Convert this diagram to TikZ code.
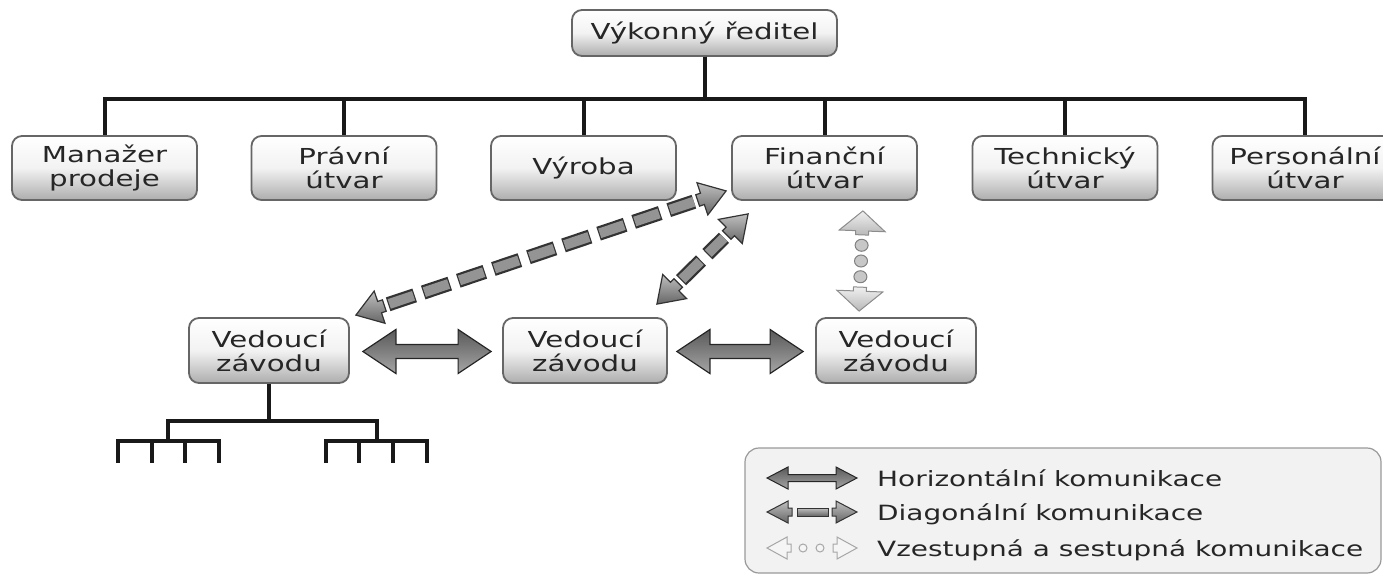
\documentclass[tikz,border=0pt]{standalone}
\usepackage{fontspec}
\newfontfamily\vfont[FakeStretch=1.33]{DejaVu Sans}
\usetikzlibrary{calc}

\tikzset{
  orgbox/.style={draw=black!60, line width=1.8pt, rounded corners=10pt,
    top color=white, bottom color=black!32, middle color=black!5,
    font=\vfont\fontsize{22}{24}\selectfont, text=black!85, align=center, inner sep=0pt},
  rowtwo/.style={orgbox, minimum width=185pt, minimum height=64pt},
  rowthree/.style={orgbox, minimum width=160pt, minimum height=65pt},
  treeline/.style={line width=4pt, black!90},
  harr/.style={draw=black!85, line width=1.2pt, top color=black!65, bottom color=black!35, line join=miter},
  dhd/.style={draw=black!80, line width=1.2pt, top color=black!25, bottom color=black!60, line join=miter},
  dout/.style={line width=14.4pt, black!80, dash pattern=on 28pt off 9pt},
  din/.style={line width=10pt, black!42, dash pattern=on 25.6pt off 11.4pt, dash phase=35.8pt},
  vhd/.style={draw=black!45, line width=1pt, top color=black!6, bottom color=black!28, line join=miter},
  vcirc/.style={draw=black!50, line width=1pt, fill=black!22},
  lhd/.style={draw=black!35, line width=1pt, fill=black!4, line join=miter},
  lcirc/.style={draw=black!35, line width=1pt, fill=black!4},
  legtext/.style={font=\vfont\fontsize{21}{24}\selectfont, text=black!85, anchor=base west, inner sep=0pt},
}

% double-headed block arrow: #1 tip A, #2 tip B, #3 head length, #4 head half width, #5 shaft half width, #6 style
\newcommand{\blockarrow}[6]{%
  \coordinate (ba) at ($(#1)!#3!(#2)$);
  \coordinate (bb) at ($(#2)!#3!(#1)$);
  \path[#6] (#1) -- ($(ba)!#4!90:(#2)$) -- ($(ba)!#5!90:(#2)$) -- ($(bb)!#5!-90:(#1)$)
    -- ($(bb)!#4!-90:(#1)$) -- (#2) -- ($(bb)!#4!90:(#1)$) -- ($(bb)!#5!90:(#1)$)
    -- ($(ba)!#5!-90:(#2)$) -- ($(ba)!#4!-90:(#2)$) -- cycle;
}
% single head with stub: #1 tip, #2 toward, #3 head length, #4 stub end, #5 head half width, #6 stub half width, #7 style
\newcommand{\onehead}[7]{%
  \coordinate (hA) at ($(#1)!#3!(#2)$);
  \coordinate (hC) at ($(#1)!#4!(#2)$);
  \path[#7] (#1) -- ($(hA)!#5!90:(#2)$) -- ($(hA)!#6!90:(#2)$) -- ($(hC)!#6!90:(#2)$)
    -- ($(hC)!#6!-90:(#2)$) -- ($(hA)!#6!-90:(#2)$) -- ($(hA)!#5!-90:(#2)$) -- cycle;
}
% dashed shaft: #1 A, #2 B, #3 offset from both ends
\newcommand{\dshaft}[3]{%
  \draw[dout] ($(#1)!#3!(#2)$) -- ($(#2)!#3!(#1)$);
  \draw[din] ($(#1)!#3!(#2)$) -- ($(#2)!#3!(#1)$);
}

\begin{document}
\begin{tikzpicture}[x=1pt,y=-1pt]
\useasboundingbox (0,0) rectangle (1383,575);

% boxes
\node[orgbox, minimum width=265pt, minimum height=46pt] (ceo) at (704.5,33) {Výkonný ředitel};
\node[rowtwo] (man) at (104.5,168) {Manažer\\prodeje};
\node[rowtwo] (pra) at (344,168) {Právní\\útvar};
\node[rowtwo] (vyr) at (583.5,168) {Výroba};
\node[rowtwo] (fin) at (824.5,168) {Finanční\\útvar};
\node[rowtwo] (tec) at (1065,168) {Technický\\útvar};
\node[rowtwo] (per) at (1305,168) {Personální\\útvar};
\node[rowthree] (v1) at (269,350.5) {Vedoucí\\závodu};
\node[rowthree, minimum width=164pt] (v2) at (585,350.5) {Vedoucí\\závodu};
\node[rowthree] (v3) at (896,350.5) {Vedoucí\\závodu};

% top tree
\foreach \c in {man,pra,vyr,fin,tec,per}
  \draw[treeline] (ceo.south) -- ++(0,42) -| (\c.north);

% bottom tree
\coordinate (t1) at (168,441);
\coordinate (t2) at (377,441);
\draw[treeline] (v1.south) -- ++(0,37) -| (t1);
\draw[treeline] (v1.south) -- ++(0,37) -| (t2);
\foreach \x [count=\i] in {118,152,185,219} {
  \coordinate (la\i) at (\x,463);
  \draw[treeline] (t1) -| (la\i);
}
\foreach \x [count=\i] in {326,359,393,427} {
  \coordinate (lb\i) at (\x,463);
  \draw[treeline] (t2) -| (lb\i);
}

% horizontal communication
\coordinate (h1a) at ($(v1.east)+(13,1)$);
\coordinate (h1b) at ($(v2.west)+(-11,1)$);
\coordinate (h2a) at ($(v2.east)+(9,1)$);
\coordinate (h2b) at ($(v3.west)+(-12,1)$);
\blockarrow{h1a}{h1b}{33pt}{22pt}{7pt}{harr}
\blockarrow{h2a}{h2b}{33pt}{22pt}{7pt}{harr}

% diagonal communication
\coordinate (d1a) at ($(v1.north east)+(6,-2)$);
\coordinate (d1b) at ($(fin.south west)+(-5,-10)$);
\coordinate (d2a) at ($(v2.north east)+(-11,-13)$);
\coordinate (d2b) at ($(fin.south west)+(17,13)$);
\dshaft{d1a}{d1b}{34pt}
\dshaft{d2a}{d2b}{34pt}
\onehead{d1a}{d1b}{25pt}{30pt}{17pt}{6pt}{dhd}
\onehead{d1b}{d1a}{25pt}{30pt}{17pt}{6pt}{dhd}
\onehead{d2a}{d2b}{25pt}{30pt}{17pt}{6pt}{dhd}
\onehead{d2b}{d2a}{25pt}{30pt}{17pt}{6pt}{dhd}

% vertical communication
\coordinate (va) at ($(fin.south east)+(-55,10)$);
\coordinate (vb) at ($(v3.north west)+(44,-6)$);
\foreach \f in {0.343,0.5,0.657}
  \path[vcirc] ($(va)!\f!(vb)$) ellipse [x radius=6.5pt, y radius=6pt];
\onehead{va}{vb}{20pt}{24pt}{23pt}{6.5pt}{vhd}
\onehead{vb}{va}{20pt}{24pt}{23pt}{6.5pt}{vhd}

% legend
\node[draw=black!40, fill=black!5, rounded corners=14pt, line width=1.2pt,
      minimum width=636pt, minimum height=125pt, inner sep=0pt] (leg) at (1063,510.5) {};
\coordinate (g1a) at (767,478);
\coordinate (g1b) at (857,478);
\blockarrow{g1a}{g1b}{21pt}{11pt}{3.5pt}{harr, line width=1pt}
\coordinate (g2a) at (767,512);
\coordinate (g2b) at (857,512);
\onehead{g2a}{g2b}{21pt}{25pt}{11pt}{4pt}{dhd, line width=1pt}
\onehead{g2b}{g2a}{21pt}{25pt}{11pt}{4pt}{dhd, line width=1pt}
\path[dhd, line width=1pt] (797,508) rectangle (828,516);
\coordinate (g3a) at (767,548);
\coordinate (g3b) at (857,548);
\path[lcirc] (803,548) circle [radius=4pt];
\path[lcirc] (820,548) circle [radius=4pt];
\onehead{g3a}{g3b}{20pt}{24pt}{11pt}{4pt}{lhd}
\onehead{g3b}{g3a}{20pt}{24pt}{11pt}{4pt}{lhd}
\node[legtext] (lt1) at (877,486) {Horizontální komunikace};
\node[legtext] (lt2) at (877,520) {Diagonální komunikace};
\node[legtext] (lt3) at (877,556) {Vzestupná a sestupná komunikace};
\end{tikzpicture}
\end{document}
